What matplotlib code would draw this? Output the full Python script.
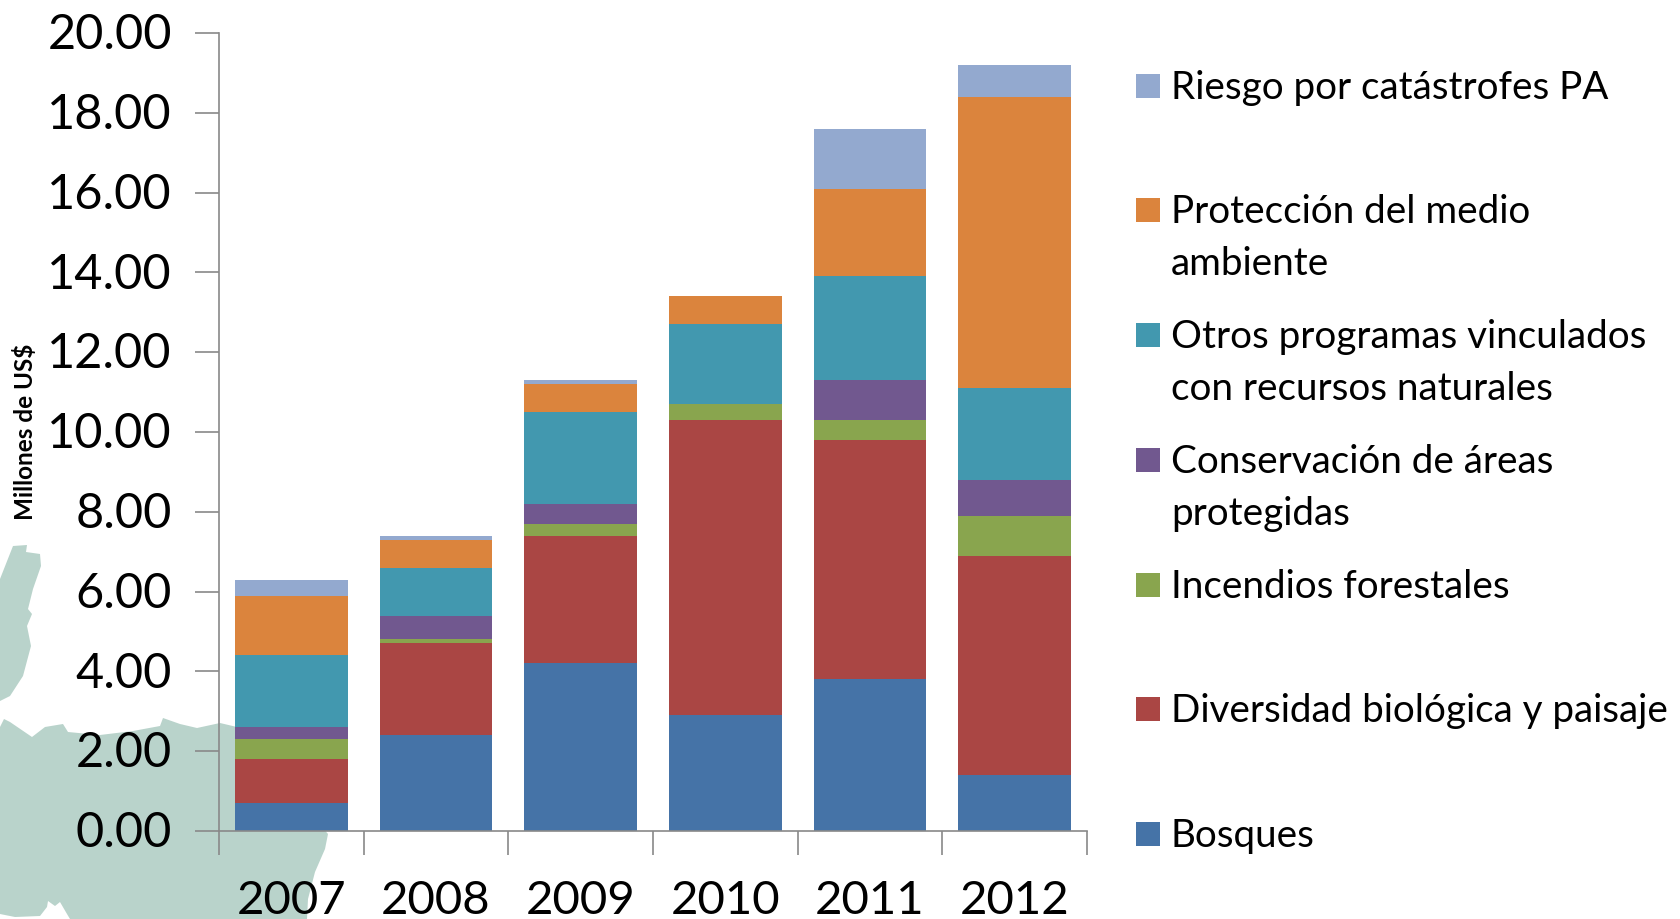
import matplotlib
matplotlib.use('Agg')
import matplotlib.pyplot as plt
from matplotlib.patches import Polygon, Rectangle
from matplotlib.transforms import ScaledTranslation
import numpy as np

years = ['2007', '2008', '2009', '2010', '2011', '2012']

# bottom to top of the stack
bosques = [0.7, 2.4, 4.2, 2.9, 3.8, 1.4]
diversidad = [1.1, 2.3, 3.2, 7.4, 6.0, 5.5]
incendios = [0.5, 0.1, 0.3, 0.4, 0.5, 1.0]
conservacion = [0.3, 0.6, 0.5, 0.0, 1.0, 0.9]
otros = [1.8, 1.2, 2.3, 2.0, 2.6, 2.3]
proteccion = [1.5, 0.7, 0.7, 0.7, 2.2, 7.3]
riesgo = [0.4, 0.1, 0.1, 0.0, 1.5, 0.8]

series = [bosques, diversidad, incendios, conservacion, otros, proteccion, riesgo]
colors = ['#4573A7', '#AA4644', '#89A54E', '#71588F', '#4298AF', '#DB843D', '#93A9CF']
labels = ['Bosques', 'Diversidad biológica y paisaje', 'Incendios forestales',
          'Conservación de áreas\nprotegidas', 'Otros programas vinculados\ncon recursos naturales',
          'Protección del medio\nambiente', 'Riesgo por catástrofes PA']
legend_y = [833, 708, 584, 459, 334, 209, 85]

W, H = 1681, 920
FONT = 'Lato'
plt.rcParams['font.family'] = [FONT, 'DejaVu Sans']

fig = plt.figure(figsize=(W / 100, H / 100), dpi=100)

# map shapes behind the chart, in pixels of the full picture
bg = fig.add_axes([0, 0, 1, 1])
bg.set_xlim(0, W)
bg.set_ylim(H, 0)
bg.axis('off')
island = [(0, 580), (13, 547), (27, 546), (26, 553), (40, 555), (41, 567), (33, 590), (28, 610),
          (32, 615), (27, 627), (31, 647), (23, 677), (10, 697), (0, 702)]
land = [(0, 728), (4, 720), (10, 723), (32, 738), (45, 728), (63, 725), (68, 733), (100, 736),
        (133, 732), (160, 727), (163, 719), (180, 725), (197, 729), (220, 724), (237, 728),
        (328, 835), (325, 850), (315, 873), (308, 900), (307, 920), (70, 920), (67, 915),
        (60, 903), (55, 907), (48, 902), (47, 908), (40, 917), (15, 918), (0, 915)]
bg.add_patch(Polygon(island, closed=True, fc='#B9D3CB', ec='none'))
bg.add_patch(Polygon(land, closed=True, fc='#B9D3CB', ec='none'))

ax = fig.add_axes([219 / W, 1 - 832 / H, (1087 - 219) / W, (832 - 34) / H])
ax.patch.set_visible(False)

x = np.arange(len(years))
bottom = np.zeros(len(years))
for vals, c in zip(series, colors):
    ax.bar(x, vals, width=0.777, bottom=bottom, color=c, linewidth=0)
    bottom += np.array(vals)

ax.set_xlim(-0.5, 5.5)
ax.set_ylim(0, 20)
ax.set_yticks(np.arange(0, 21, 2))
ax.set_yticklabels([f'{v:.2f}' for v in np.arange(0, 21, 2)], fontsize=35)
ax.set_xticks(np.arange(-0.5, 6, 1))
ax.set_xticklabels([])
ax.tick_params(axis='both', color='#898989', width=1.2, length=17, pad=17)
# tick labels sit a little above their ticks in the original
up = ScaledTranslation(0, 2 / 72, fig.dpi_scale_trans)
for lb in ax.get_yticklabels():
    lb.set_transform(lb.get_transform() + up)
for t in x:
    ax.text(t, -1.72, years[t], ha='center', va='center', fontsize=34, color='black')
for s in ['top', 'right']:
    ax.spines[s].set_visible(False)
for s in ['left', 'bottom']:
    ax.spines[s].set_color('#898989')
    ax.spines[s].set_linewidth(1.2)

bg.text(25, 432, 'Millones de US$', rotation=90, ha='center', va='center', fontsize=17.5, fontweight='bold')

# legend drawn by hand so the uneven row spacing is kept
for lab, c, ly in zip(labels, colors, legend_y):
    bg.add_patch(Rectangle((1136, ly - 10), 24, 24, fc=c, ec='none'))
    if '\n' in lab:
        first, second = lab.split('\n')
        bg.text(1171, ly + 3, first, ha='left', va='center', fontsize=27.8)
        bg.text(1171, ly + 55, second, ha='left', va='center', fontsize=27.8)
    else:
        bg.text(1171, ly + 3, lab, ha='left', va='center', fontsize=27.8)

fig.savefig('out.png', dpi=100)
